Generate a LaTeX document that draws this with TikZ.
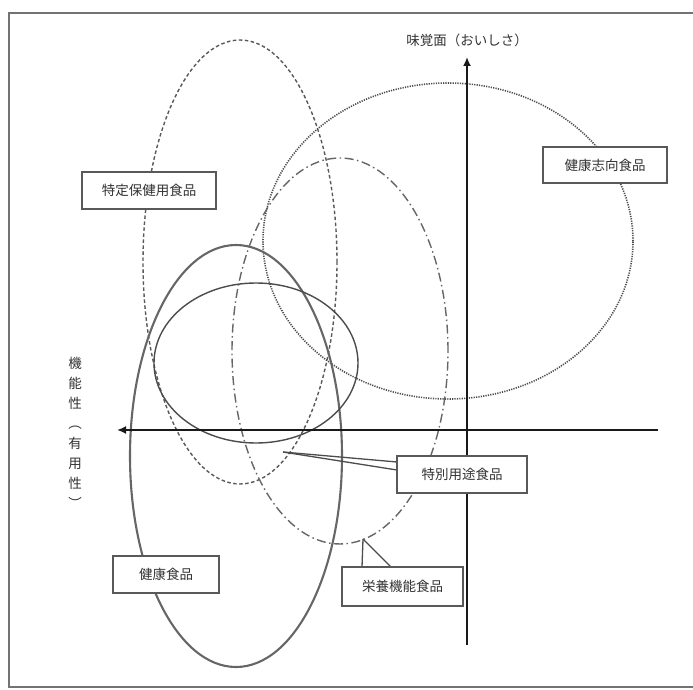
\documentclass[tikz,border=0pt]{standalone}
\usepackage{fontspec}
\setmainfont{Noto Sans CJK JP}
\usetikzlibrary{arrows.meta}
\begin{document}
\begin{tikzpicture}[x=1pt,y=-1pt,
  frameline/.style={draw=black!55, line width=1.6pt},
  axisline/.style={draw=black!90, line width=1.8pt, -{Latex[length=9pt,width=8pt]}},
  lbl/.style={draw=black!65, line width=1.4pt, fill=white, font=\fontsize{13.5}{15}\selectfont, text=black!80, minimum height=37pt, inner sep=0pt},
  axislbl/.style={font=\fontsize{13.5}{15}\selectfont, text=black!80, inner sep=0pt},
  vlbl/.style={font=\fontsize{13.5}{20}\selectfont, text=black!80, inner sep=0pt, align=center},
  kenko/.style={draw=black!60, line width=2.1pt},
  tokubetsu/.style={draw=black!70, line width=1.4pt},
  tokutei/.style={draw=black!65, line width=1.4pt, dash pattern=on 3.5pt off 2.5pt},
  eiyou/.style={draw=black!60, line width=1.4pt, dash pattern=on 9pt off 3.5pt on 1.5pt off 3.5pt},
  shikou/.style={draw=black!70, line width=1.6pt, dash pattern=on 1.2pt off 1.2pt},
  wedge/.style={draw=black!70, line width=1.3pt}
]
\useasboundingbox (0,0) rectangle (693,690);
\fill[white] (0,0) rectangle (693,690);
% frame
\draw[frameline] (693,13) -- (9,13) -- (9,687) -- (693,687);

% ellipses
\draw[tokutei] (240,262) ellipse [x radius=97pt, y radius=222pt];
\draw[shikou] (448,241) ellipse [x radius=185pt, y radius=158pt];
\draw[eiyou] (340,351) ellipse [x radius=108pt, y radius=193pt];
\draw[kenko] (236,456) ellipse [x radius=106pt, y radius=211pt];
\draw[tokubetsu] (256,363) ellipse [x radius=102pt, y radius=80pt];

% axes
\coordinate (vbot) at (467,645);
\coordinate (vtop) at (467,57);
\coordinate (hright) at (658,430);
\coordinate (hleft) at (117,430);
\draw[axisline] (vbot) -- (vtop);
\draw[axisline] (hright) -- (hleft);

% callout tips
\coordinate (tipA) at (283,452);
\coordinate (tipB) at (363,539);

% labels
\node[lbl, minimum width=134pt] (tokuteiL) at (149,190.5) {特定保健用食品};
\node[lbl, minimum width=124pt, minimum height=36pt] (shikouL) at (605,165) {健康志向食品};
\node[lbl, minimum width=106pt] (kenkoL) at (166,574.5) {健康食品};

\draw[wedge] (tipA) -- (397,462);
\draw[wedge] (tipA) -- (397,470);
\node[lbl, minimum width=130pt] (tokubetsuL) at (462,474.5) {特別用途食品};

\draw[wedge] (tipB) -- (362,567);
\draw[wedge] (tipB) -- (391,567);
\node[lbl, minimum width=121pt, minimum height=39pt] (eiyouL) at (402.5,586.5) {栄養機能食品};

% axis labels
\node[axislbl] (taste) at (467,40) {味覚面（おいしさ）};
\node[vlbl, anchor=north] (func) at (75,357) {機\\能\\性\\︵\\有\\用\\性\\︶};
\end{tikzpicture}
\end{document}
